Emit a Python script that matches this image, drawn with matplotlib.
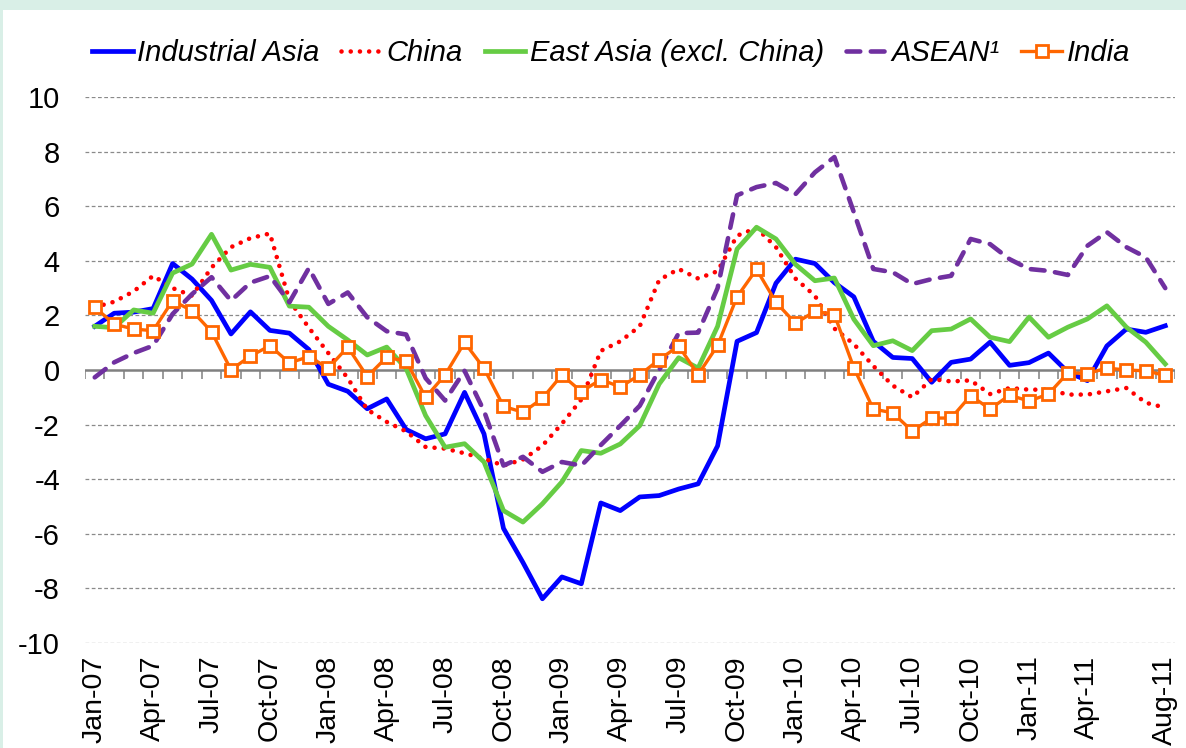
import numpy as np
import pandas as pd
import matplotlib
matplotlib.use('Agg')
import matplotlib.pyplot as plt
from matplotlib.patches import Rectangle

# monthly, Jan-07 .. Aug-11
months = pd.date_range('2007-01-01', periods=56, freq='MS').strftime('%b-%y').tolist()

industrial_asia = [1.6, 2.08, 2.12, 2.25, 3.9, 3.33, 2.55, 1.32, 2.13, 1.45,
                   1.35, 0.75, -0.52, -0.78, -1.42, -1.06, -2.18, -2.52, -2.34, -0.82,
                   -2.34, -5.8, -7.05, -8.38, -7.58, -7.83, -4.87, -5.15, -4.65, -4.6,
                   -4.36, -4.17, -2.78, 1.05, 1.37, 3.18, 4.06, 3.9, 3.2, 2.68,
                   1.05, 0.46, 0.42, -0.45, 0.28, 0.4, 1.02, 0.17, 0.27, 0.62,
                   -0.08, -0.39, 0.88, 1.5, 1.38, 1.62]
china = [2.3, 2.5, 2.88, 3.45, 3.0, 2.72, 3.75, 4.5, 4.83, 5.0,
         2.55, 1.55, 0.62, -0.3, -1.45, -1.9, -2.25, -2.82, -2.88, -3.05,
         -3.25, -3.5, -3.28, -2.77, -1.97, -1.08, 0.7, 1.05, 1.6, 3.3,
         3.7, 3.35, 3.62, 4.92, 5.2, 4.5, 3.35, 2.72, 1.52, 0.95,
         0.15, -0.57, -1.0, -0.33, -0.42, -0.38, -0.88, -0.66, -0.72, -0.72,
         -0.9, -0.9, -0.78, -0.66, -1.2, -1.38]
east_asia = [1.6, 1.55, 2.2, 2.08, 3.55, 3.88, 4.97, 3.66, 3.87, 3.76,
             2.34, 2.3, 1.6, 1.1, 0.55, 0.84, 0.05, -1.67, -2.83, -2.7,
             -3.37, -5.15, -5.57, -4.9, -4.1, -2.95, -3.05, -2.71, -2.04, -0.51,
             0.45, 0.07, 1.6, 4.43, 5.23, 4.8, 3.87, 3.27, 3.37, 1.86,
             0.89, 1.07, 0.71, 1.44, 1.5, 1.87, 1.2, 1.04, 1.94, 1.2,
             1.57, 1.87, 2.35, 1.57, 1.02, 0.22]
asean = [-0.27, 0.28, 0.62, 0.89, 2.05, 2.78, 3.4, 2.54, 3.2, 3.44,
         2.48, 3.73, 2.42, 2.84, 1.93, 1.42, 1.3, -0.3, -1.12, -0.03,
         -1.5, -3.5, -3.18, -3.73, -3.37, -3.5, -2.75, -2.04, -1.31, 0.0,
         1.35, 1.37, 3.0, 6.4, 6.7, 6.85, 6.44, 7.24, 7.8, 5.78,
         3.7, 3.58, 3.15, 3.33, 3.45, 4.8, 4.61, 4.06, 3.7, 3.63,
         3.48, 4.55, 5.05, 4.5, 4.13, 3.0]
india = [2.3, 1.68, 1.5, 1.44, 2.54, 2.17, 1.4, 0.01, 0.51, 0.89,
         0.26, 0.49, 0.07, 0.84, -0.24, 0.47, 0.32, -1.0, -0.18, 1.01,
         0.06, -1.33, -1.55, -1.04, -0.18, -0.79, -0.35, -0.62, -0.18, 0.38,
         0.88, -0.17, 0.9, 2.68, 3.69, 2.48, 1.71, 2.15, 2.03, 0.08,
         -1.43, -1.57, -2.24, -1.76, -1.76, -0.94, -1.43, -0.92, -1.14, -0.88,
         -0.1, -0.13, 0.07, 0.0, -0.03, -0.2]

labels = ['Industrial Asia', 'China', 'East Asia (excl. China)', 'ASEAN\u00b9', 'India']

# labelled months: every quarter, plus the last one
tick_idx = list(range(0, 54, 3)) + [55]

FONT = ['Liberation Sans', 'DejaVu Sans']

W, H = 1186, 748
fig = plt.figure(figsize=(W/100, H/100), dpi=100)
fig.patch.set_facecolor('#d9efe7')
fig.add_artist(Rectangle((3/W, 0), 1, 1 - 10/H, transform=fig.transFigure,
                         facecolor='white', edgecolor='none', zorder=0))

ax = fig.add_axes([85/W, 1 - 643/H, 1090/W, 546/H])
ax.set_facecolor('none')
x = np.arange(len(months))

for y in range(-10, 11, 2):
    if y != 0:
        ax.axhline(y, color='#8a8a8a', lw=0.9, ls=(0, (3, 2)), zorder=1)
ax.axhline(0, color='#808080', lw=1.8, zorder=1)
ax.vlines(x - 0.5, -0.33, 0, color='#808080', lw=1.1, zorder=1)
ax.vlines(x[-1] + 0.5, -0.33, 0, color='#808080', lw=1.1, zorder=1)

ax.plot(x, industrial_asia, color='#0000ff', lw=3.4, label=labels[0], zorder=3)
ax.plot(x, china, color='#ff0000', lw=3.3, ls=(0, (0.01, 2.0)),
        dash_capstyle='round', label=labels[1], zorder=3)
ax.plot(x, east_asia, color='#66cc44', lw=3.4, label=labels[2], zorder=3)
ax.plot(x, asean, color='#7030a0', lw=3.3, ls=(0, (3.0, 2.3)),
        dash_capstyle='round', label=labels[3], zorder=3)
ax.plot(x, india, color='#ff6600', lw=2.4, marker='s', ms=9, mfc='white',
        mec='#ff6600', mew=2.0, label=labels[4], zorder=4)

ax.set_xlim(-0.5, len(months) - 0.5)
ax.set_ylim(-10, 10)
ax.set_yticks(range(-10, 11, 2))
ax.set_yticklabels([str(v) for v in range(-10, 11, 2)], family=FONT, fontsize=21)
ax.set_xticks(tick_idx)
ax.set_xticklabels([months[i] for i in tick_idx], rotation=90, family=FONT, fontsize=20.5)
ax.tick_params(axis='both', length=0)
ax.tick_params(axis='y', pad=18)
ax.tick_params(axis='x', pad=9)
for s in ax.spines.values():
    s.set_visible(False)

ax.legend(loc='center', bbox_to_anchor=(0.515, 1 - 53/H), bbox_transform=fig.transFigure,
          ncol=5, frameon=False, handlelength=1.4, handletextpad=0.15, columnspacing=0.75,
          prop=dict(family=FONT, style='italic', size=21))

fig.savefig('out.png', dpi=100, facecolor=fig.get_facecolor())
